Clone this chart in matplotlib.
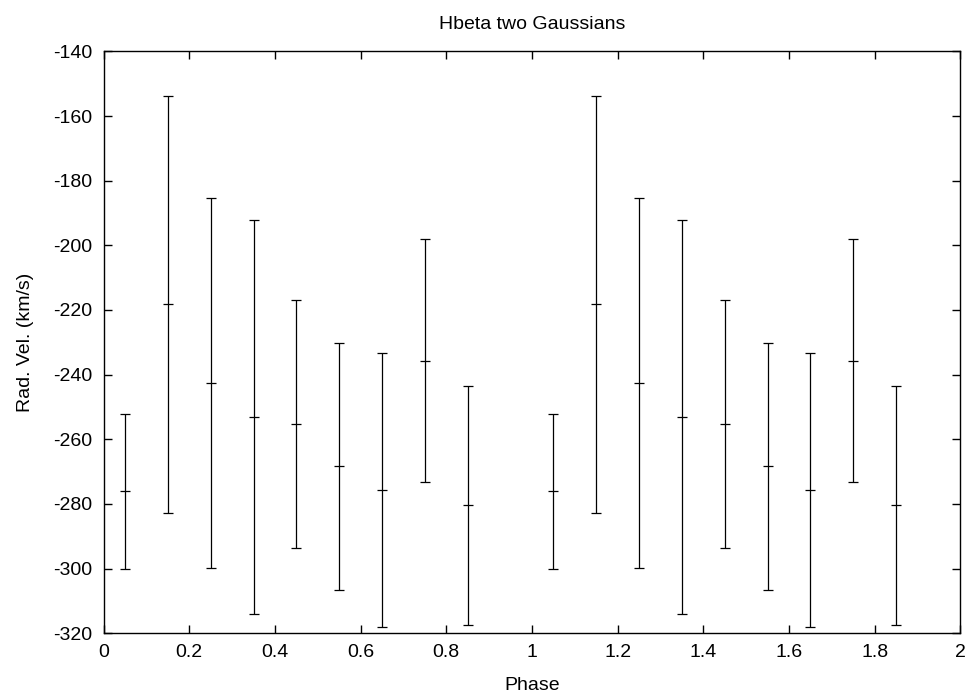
import numpy as np
import matplotlib
matplotlib.use('Agg')
import matplotlib.pyplot as plt

plt.rcParams['font.family'] = ['Liberation Sans', 'DejaVu Sans']
plt.rcParams['axes.unicode_minus'] = False

# radial velocity per phase bin, plotted twice (phase 0-1 and 1-2)
phase = [0.05, 0.15, 0.25, 0.35, 0.45, 0.55, 0.65, 0.75, 0.85,
         1.05, 1.15, 1.25, 1.35, 1.45, 1.55, 1.65, 1.75, 1.85]
rad_vel = [-276.1, -218.3, -242.6, -253.1, -255.2, -268.4, -275.7, -235.7, -280.4,
           -276.1, -218.3, -242.6, -253.1, -255.2, -268.4, -275.7, -235.7, -280.4]
rad_err = [24.0, 64.5, 57.1, 61.0, 38.3, 38.1, 42.3, 37.6, 37.0,
           24.0, 64.5, 57.1, 61.0, 38.3, 38.1, 42.3, 37.6, 37.0]

fig = plt.figure(figsize=(9.72, 6.94), dpi=100)
ax = fig.add_axes([0.1066, 0.0875, 0.8814, 0.8385])

ax.errorbar(phase, rad_vel, yerr=rad_err, fmt='_', color='black',
            ecolor='black', elinewidth=0.9, capsize=3.5, capthick=0.9,
            markersize=7, markeredgewidth=0.9)

ax.set_xlim(0, 2)
ax.set_ylim(-320, -140)
ax.set_xticks(np.arange(0, 2.01, 0.2))
ax.set_xticklabels(['0', '0.2', '0.4', '0.6', '0.8', '1', '1.2', '1.4', '1.6', '1.8', '2'])
ax.set_yticks(np.arange(-320, -139, 20))

ax.tick_params(direction='in', length=6, width=1, top=True, right=True,
               labelsize=14, pad=8)
for s in ax.spines.values():
    s.set_linewidth(1.0)

ax.set_title('Hbeta two Gaussians', fontsize=14, pad=16)
ax.set_xlabel('Phase', fontsize=14, labelpad=11)
ax.set_ylabel('Rad. Vel. (km/s)', fontsize=14, labelpad=14)

fig.savefig('out.png', dpi=100)
